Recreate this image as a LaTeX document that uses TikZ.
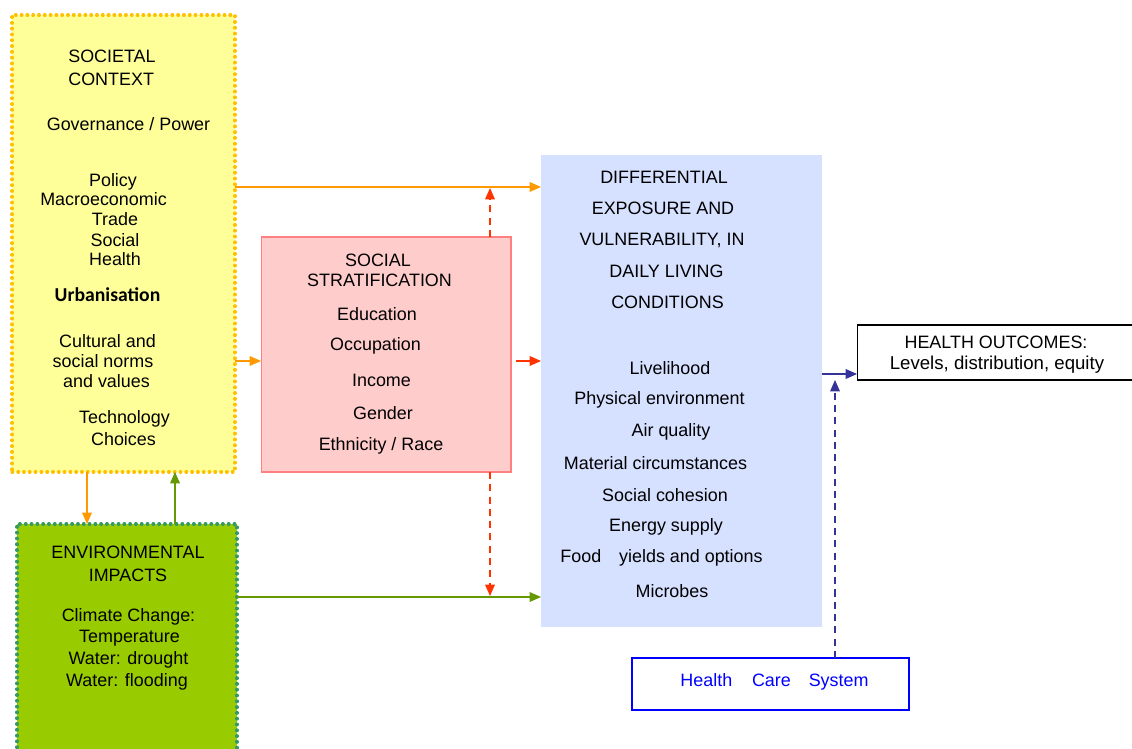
\documentclass[tikz,border=0pt]{standalone}
\usepackage{fontspec}
\setmainfont{Liberation Sans}
\newfontfamily\urbfont{Carlito}
\usepackage{xcolor}
\usetikzlibrary{arrows.meta}

\definecolor{ctxfill}{HTML}{FFFF99}
\definecolor{ctxdots}{HTML}{FFC000}
\definecolor{envfill}{HTML}{99CC00}
\definecolor{envdots}{HTML}{339966}
\definecolor{stratfill}{HTML}{FFCCCC}
\definecolor{stratline}{HTML}{FF8080}
\definecolor{difffill}{HTML}{D6E0FF}
\definecolor{arrorange}{HTML}{FF9900}
\definecolor{arrred}{HTML}{FF3300}
\definecolor{arrgreen}{HTML}{669900}
\definecolor{arrnavy}{HTML}{333399}
\definecolor{hcsblue}{HTML}{0000FF}

\begin{document}
\begin{tikzpicture}[x=0.02cm,y=-0.02cm,
    font=\fontsize{10.2}{12}\selectfont,
    box/.style={inner sep=0pt, outer sep=0pt},
    dotline/.style={line width=1.8pt, dash pattern=on 0.4pt off 2.9pt, line cap=round},
    txt/.style={inner sep=0pt, anchor=center},
    arr/.style={-{Triangle[length=6.5pt,width=5.5pt]}, line width=0.8pt},
    dasharr/.style={arr, dash pattern=on 4pt off 3pt}]
\useasboundingbox (0,0) rectangle (1132,749);

% boxes
\node[box, fill=ctxfill, draw=ctxdots, dotline, minimum width=4.46cm, minimum height=9.14cm] (ctx) at (123.5,243.5) {};
\node[box, fill=envfill, draw=envdots, dotline, minimum width=4.40cm, minimum height=4.72cm] (env) at (127,642) {};
\node[box, fill=stratfill, draw=stratline, line width=0.6pt, minimum width=5.0cm, minimum height=4.70cm] (strat) at (386,354.5) {};
\node[box, fill=difffill, minimum width=5.62cm, minimum height=9.44cm] (diff) at (681.5,391) {};
\node[box, fill=white, draw=black, line width=0.6pt, minimum width=5.56cm, minimum height=1.10cm] (out) at (996,352.5) {};
\node[box, fill=white, draw=hcsblue, line width=1.3pt, minimum width=5.54cm, minimum height=1.04cm] (hcs) at (770.5,684) {};

% societal context
\node[txt, anchor=west] (ctxa) at (68,56) {SOCIETAL};
\node[txt, anchor=west] (ctxb) at (68,79) {CONTEXT};
\foreach \t/\x/\y [count=\i] in {{Governance / Power}/128.5/124, Policy/113/182,
    Macroeconomic/103.5/199, Trade/115/219, Social/115/240, Health/115/259,
    Cultural and/107.5/341, social norms/103/361, and values/106.5/381,
    Technology/124.5/419, Choices/123.5/439}
  \node[txt] (ctx\i) at (\x,\y) {\t};
\node[txt, font=\urbfont\bfseries\fontsize{11.2}{13}\selectfont] (urb) at (107.5,295) {Urbanisation};

% environmental impacts
\foreach \t/\x/\y [count=\i] in {ENVIRONMENTAL/128/552, IMPACTS/128/575,
    Climate Change:/128.5/617, Temperature/129.5/638, Water: drought/128.5/660,
    Water: flooding/127/682}
  \node[txt] (env\i) at (\x,\y) {\t};

% social stratification
\foreach \t/\x/\y [count=\i] in {SOCIAL/378/260, STRATIFICATION/379.5/280,
    Education/377/314, Occupation/375.5/346, Income/381.5/380, Gender/383/413,
    {Ethnicity / Race}/381/446}
  \node[txt] (strat\i) at (\x,\y) {\t};

% daily living conditions
\foreach \t/\x/\y [count=\i] in {DIFFERENTIAL/664/177, EXPOSURE AND/663/208,
    {VULNERABILITY, IN}/662/240, DAILY LIVING/666.5/271, CONDITIONS/667.5/302,
    Livelihood/670/368, Physical environment/659.5/400, Air quality/671/432,
    Material circumstances/655.5/463, Social cohesion/665/495,
    Energy supply/666/527, {Food\hspace{1em}yields and options}/661.5/558,
    Microbes/672/591}
  \node[txt] (diff\i) at (\x,\y) {\t};

% outcomes and care
\node[txt] (outa) at (996,342) {HEALTH OUTCOMES:};
\node[txt, font=\fontsize{10.6}{12}\selectfont] (outb) at (997,365) {Levels, distribution, equity};
\node[txt, text=hcsblue] (hcstext) at (774.5,682) {Health\hspace{1.1em}Care\hspace{1em}System};

% connectors
\coordinate (upmeet) at (490,188);
\coordinate (downmeet) at (490,596);
\coordinate (caremeet) at (835,380);
\draw[arr, arrorange] (ctx.east |- 0,187) -- (diff.west |- 0,187);
\draw[dasharr, arrred] (strat.north -| upmeet) -- (upmeet);
\draw[arr, arrorange] (ctx.east |- 0,361) -- (strat.west |- 0,361);
\draw[arr, arrred] (strat.east |- 0,361) ++(5,0) -- (diff.west |- 0,361);
\draw[dasharr, arrred] (strat.south -| downmeet) -- (downmeet);
\draw[arr, arrgreen] (env.east |- 0,597) -- (diff.west |- 0,597);
\draw[arr, arrorange] (ctx.south -| 87,0) -- (env.north -| 87,0);
\draw[arr, arrgreen] (env.north -| 175,0) -- (ctx.south -| 175,0);
\draw[arr, arrnavy] (diff.east |- 0,374) -- (out.west |- 0,374);
\draw[dasharr, arrnavy] (hcs.north -| caremeet) -- (caremeet);
\end{tikzpicture}
\end{document}
